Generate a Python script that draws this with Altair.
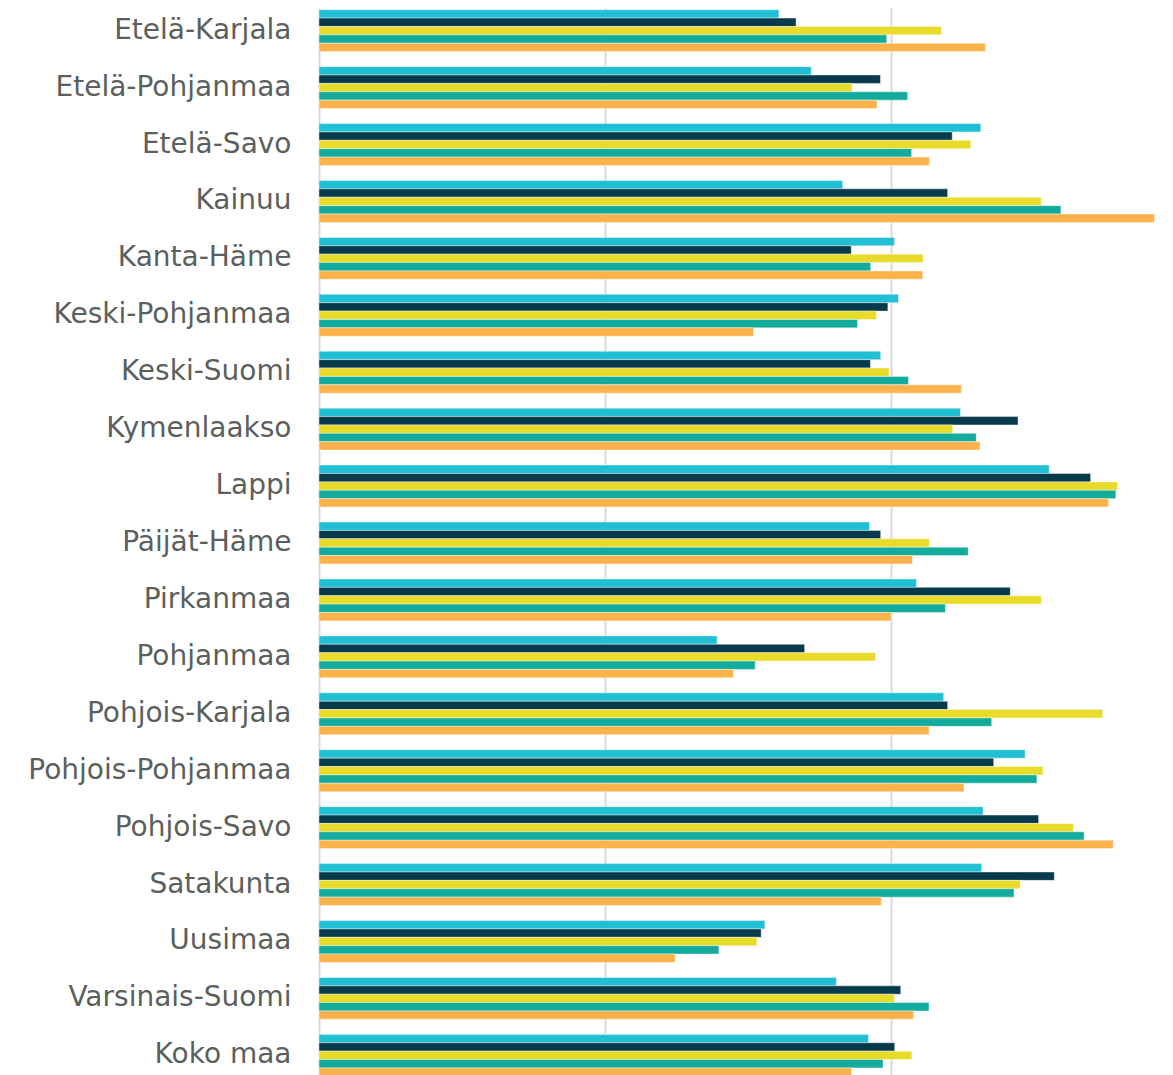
import altair as alt
import pandas as pd

regions = ["Etelä-Karjala", "Etelä-Pohjanmaa", "Etelä-Savo", "Kainuu", "Kanta-Häme",
           "Keski-Pohjanmaa", "Keski-Suomi", "Kymenlaakso", "Lappi", "Päijät-Häme",
           "Pirkanmaa", "Pohjanmaa", "Pohjois-Karjala", "Pohjois-Pohjanmaa", "Pohjois-Savo",
           "Satakunta", "Uusimaa", "Varsinais-Suomi", "Koko maa"]

series_names = ["Sarja 1", "Sarja 2", "Sarja 3", "Sarja 4", "Sarja 5"]
series_colors = ["#20bfd3", "#073a4a", "#e9db29", "#12ab9c", "#fcb24b"]

s1 = [16.08, 17.21, 23.14, 18.31, 20.12, 20.26, 19.64, 22.43, 25.53, 19.25, 20.89, 13.92, 21.84, 24.69, 23.22, 23.17, 15.59, 18.09, 19.21]
s2 = [16.68, 19.63, 22.14, 21.98, 18.61, 19.89, 19.28, 24.44, 26.98, 19.64, 24.17, 16.98, 21.98, 23.59, 25.16, 25.71, 15.46, 20.34, 20.13]
s3 = [21.76, 18.64, 22.79, 25.25, 21.13, 19.49, 19.93, 22.16, 27.92, 21.34, 25.25, 19.45, 27.40, 25.31, 26.38, 24.52, 15.31, 20.12, 20.73]
s4 = [19.85, 20.58, 20.72, 25.94, 19.29, 18.83, 20.61, 22.98, 27.86, 22.70, 21.90, 15.25, 23.52, 25.10, 26.75, 24.30, 13.98, 21.33, 19.72]
s5 = [23.30, 19.51, 21.34, 29.21, 21.11, 15.19, 22.46, 23.11, 27.60, 20.75, 20.00, 14.49, 21.33, 22.55, 27.77, 19.66, 12.45, 20.79, 18.62]

grid_values = [0, 10, 20]

rows = []
for name, vals in zip(series_names, [s1, s2, s3, s4, s5]):
    for r, v in zip(regions, vals):
        rows.append({"alue": r, "sarja": name, "arvo": v})
df = pd.DataFrame(rows)

chart = alt.Chart(df).mark_bar(stroke="white", strokeWidth=0.6, strokeOpacity=0.7).encode(
    y=alt.Y("alue:N", sort=regions,
            scale=alt.Scale(paddingInner=0.264, paddingOuter=0.03),
            axis=alt.Axis(title=None, ticks=False, domain=False, grid=False,
                          labelFont="DejaVu Sans", labelFontSize=28,
                          labelColor="#5b5f5d", labelPadding=28, labelLimit=400)),
    yOffset=alt.YOffset("sarja:N", sort=series_names),
    x=alt.X("arvo:Q", scale=alt.Scale(domain=[0, 29.37], nice=False, zero=True),
            axis=alt.Axis(title=None, values=grid_values, labels=False, ticks=False,
                          domain=False, grid=True, gridColor="#d9d9d9", gridWidth=2)),
    color=alt.Color("sarja:N", sort=series_names,
                    scale=alt.Scale(domain=series_names, range=series_colors),
                    legend=None),
).properties(
    width=840, height=1070,
    padding={"left": 19, "top": 0, "right": 0, "bottom": 0},
).configure_view(strokeWidth=0)

chart.save("out.html", embed_options={"renderer": "svg", "actions": False})
